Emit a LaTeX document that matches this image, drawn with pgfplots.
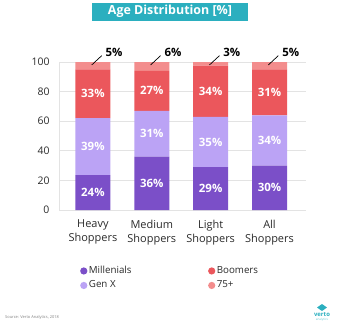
\documentclass[border=0pt]{standalone}
\usepackage{pgfplots}
\pgfplotsset{compat=1.18}
\usepackage{pgfplotstable}
\usepackage{fontspec}
\setmainfont{Open Sans}
\definecolor{mill}{HTML}{7B4FC8}
\definecolor{genx}{HTML}{BBA3F5}
\definecolor{boom}{HTML}{EB575C}
\definecolor{old}{HTML}{F38D8D}
\definecolor{titleteal}{HTML}{2BAFBF}
\definecolor{gridc}{HTML}{E3E3E3}
\definecolor{txt}{HTML}{2A2A2A}

\pgfplotstableread{
x mill genx boom old
0 23.5 38.5 33 5
1 36 31 27 6
2 29 34 34.5 2.5
3 30 34 31 5
}\data

\pgfplotstableread{
x y label
0 11.75 24
1 18 36
2 14.5 29
3 15 30
0 42.75 39
1 51.5 31
2 46 35
3 47 34
0 78.5 33
1 80.5 27
2 80.25 34
3 79.5 31
}\inlabels

\pgfplotstableread{
x y label
0.36 106.8 5
1.36 106.8 6
2.36 106.8 3
3.36 106.8 5
}\toplabels

\pgfplotsset{
  circlegend/.style={legend image code/.code={\fill[##1] (0bp,0bp) circle (3.6bp);}},
  base/.style={
    scale only axis, width=247bp, height=148bp,
    at={(59bp,-210bp)}, anchor=south west,
    xmin=-0.576, xmax=3.62, ymin=0, ymax=100,
    clip=false,
  }
}

\begin{document}
\begin{tikzpicture}
\path[use as bounding box] (0,0) rectangle (337bp,-324bp);
\node[fill=titleteal, text=white, font=\bfseries\fontsize{12.5}{14}\selectfont,
  minimum width=156bp, minimum height=18bp, inner sep=0] at (170bp,-11.7bp) {Age Distribution [\%]};

\begin{axis}[base,
  ybar stacked, bar width=35bp,
  axis lines*=left,
  axis line style={gridc, line width=0.8pt},
  major tick length=0,
  ytick={0,20,40,60,80,100},
  ymajorgrids, grid style={gridc, line width=0.8pt},
  xtick={0,1,2,3},
  xticklabels={{Heavy\\Shoppers},{Medium\\Shoppers},{Light\\Shoppers},{All\\Shoppers}},
  xticklabel style={align=center, font=\fontsize{11}{14}\selectfont, text=txt, yshift=-6.5bp},
  yticklabel style={font=\fontsize{10.5}{12}\selectfont, text=txt, xshift=-6bp},
  /pgf/number format/assume math mode=true,
  legend columns=2, transpose legend,
  legend style={at={(0.085,-0.37)}, anchor=north west, draw=none, inner sep=0pt,
    font=\fontsize{9.8}{11}\selectfont, text=txt,
    nodes={inner sep=1.5bp, text height=7bp, text depth=2bp},
    /tikz/every even column/.append style={column sep=75bp},
    row sep=2.5bp},
  legend cell align=left,
]
\addplot[fill=mill, draw=none, circlegend] table[x=x, y=mill] {\data};
\addlegendentry{Millenials}
\addplot[fill=genx, draw=none, circlegend] table[x=x, y=genx] {\data};
\addlegendentry{Gen X}
\addplot[fill=boom, draw=none, circlegend] table[x=x, y=boom] {\data};
\addlegendentry{Boomers}
\addplot[fill=old, draw=none, circlegend] table[x=x, y=old] {\data};
\addlegendentry{75+}
\end{axis}

\begin{axis}[base, hide axis]
\addplot[draw=none, mark=none, nodes near coords={\pgfplotspointmeta\%}, point meta=explicit symbolic,
  every node near coord/.style={anchor=center, text=white, font=\bfseries\fontsize{11.5}{13}\selectfont}]
  table[x=x, y=y, meta=label] {\inlabels};
\addplot[draw=none, mark=none, nodes near coords={\pgfplotspointmeta\%}, point meta=explicit symbolic,
  every node near coord/.style={anchor=center, text=black, font=\bfseries\fontsize{11.5}{13}\selectfont}]
  table[x=x, y=y, meta=label] {\toplabels};
\addplot[black, line width=0.7pt] coordinates {(-0.02,98) (0.15,104.3)};
\addplot[black, line width=0.7pt] coordinates {(0.98,98) (1.15,104.3)};
\addplot[black, line width=0.7pt] coordinates {(1.98,98) (2.15,104.3)};
\addplot[black, line width=0.7pt] coordinates {(2.98,98) (3.15,104.3)};
\end{axis}

\node[anchor=west, text=gray, font=\fontsize{4}{5}\selectfont, inner sep=0] at (5bp,-317bp) {Source: Verto Analytics, 2018};
\fill[titleteal] (322bp,-304bp) -- (327bp,-307.5bp) -- (322bp,-311bp) -- (317bp,-307.5bp) -- cycle;
\node[text=titleteal, font=\bfseries\fontsize{6}{6}\selectfont, inner sep=0] at (322bp,-315bp) {verto};
\node[text=titleteal!70, font=\fontsize{3}{3}\selectfont, inner sep=0] at (322bp,-320bp) {analytics};
\end{tikzpicture}
\end{document}
